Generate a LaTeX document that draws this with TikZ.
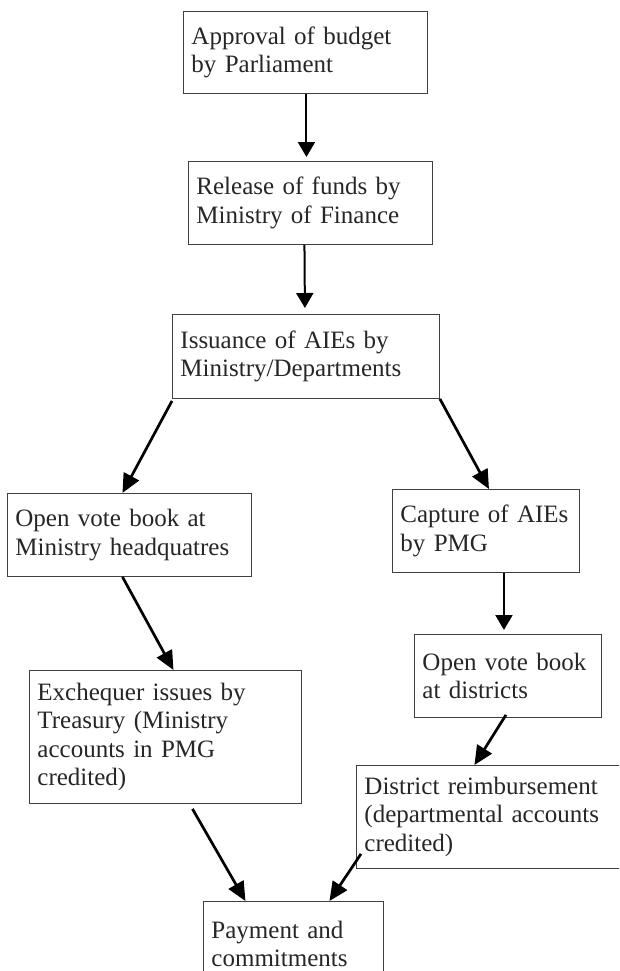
\documentclass[tikz,border=0pt]{standalone}
\usepackage{fontspec}
\setmainfont{Liberation Serif}
\usetikzlibrary{arrows.meta}

\tikzset{
  stepbox/.style={draw=black!75, line width=0.9pt, anchor=north west, align=left,
    inner xsep=8pt, inner ysep=0pt, text=black!85,
    font=\fontsize{25}{28.5}\selectfont},
  flow/.style={line width=2pt, -{Triangle[width=17pt,length=15pt]}},
  slant/.style={line width=2.7pt, -{Triangle[width=17pt,length=19pt]}}
}

\begin{document}
\begin{tikzpicture}[x=1pt, y=-1pt]
			\clip (0,0) rectangle (619,971);

			% Draw the boxes down the middle
			\node[stepbox, text width=228pt, minimum height=82pt] (app) at (183,11) {Approval of budget\\by Parliament};
			\node[stepbox, text width=228pt, minimum height=83pt] (rel) at (188,161) {Release of funds by\\Ministry of Finance};
			\node[stepbox, text width=251pt, minimum height=84pt] (iss) at (172,314) {Issuance of AIEs by\\Ministry/Departments};

			% Draw the left branch
			\node[stepbox, text width=228pt, minimum height=83pt] (mhq) at (7,493) {Open vote book at\\Ministry headquatres};
			\node[stepbox, text width=256pt, minimum height=133pt] (exq) at (29,670) {Exchequer issues by\\Treasury (Ministry\\accounts in PMG\\credited)};

			% Draw the right branch
			\node[stepbox, text width=171pt, minimum height=83pt] (cap) at (392,489) {Capture of AIEs\\by PMG};
			\node[stepbox, text width=171pt, minimum height=83pt] (dst) at (414,634) {Open vote book\\at districts};
			\node[stepbox, text width=248pt, minimum height=103pt] (dre) at (356,765) {District reimbursement\\(departmental accounts\\credited)};

			\node[stepbox, text width=164pt, minimum height=85pt] (pay) at (203,901) {Payment and\\commitments};

			% Draw the straight arrows
			\draw[flow, shorten >=4pt] ([xshift=1pt]app.south) -- ([xshift=-4pt]rel.north);
			\draw[flow, shorten >=6pt] ([xshift=-6pt]rel.south) -- ([xshift=-1pt]iss.north);
			\draw[flow, shorten >=4pt] ([xshift=18pt]cap.south) -- ([xshift=-4pt]dst.north);

			% Draw the slanted arrows
			\draw[slant] ([yshift=-2pt]iss.south west) -- ([xshift=-7pt]mhq.north);
			\draw[slant] (iss.south east) -- ([xshift=3pt]cap.north);
			\draw[slant] ([xshift=-7pt]mhq.south) -- ([xshift=8pt]exq.north);
			\draw[slant] ([xshift=-2pt,yshift=3pt]dst.south) -- ([xshift=-14pt]dre.north);
			\draw[slant] ([xshift=27pt,yshift=-5pt]exq.south) -- ([xshift=-48pt]pay.north);
			\draw[slant] ([xshift=5pt,yshift=15pt]dre.south west) -- ([xshift=36pt]pay.north);

\end{tikzpicture}
\end{document}
